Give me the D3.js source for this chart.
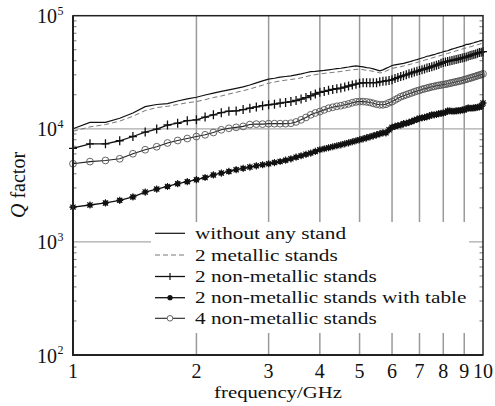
<!DOCTYPE html>
<html><head><meta charset="utf-8">
<script src="https://cdn.jsdelivr.net/npm/d3@7"></script>
<style>body{margin:0;background:#fff}svg{display:block}</style>
</head><body><svg id="c" width="495" height="406"></svg>
<script>
const freq = [1.0,1.1,1.2,1.3,1.4,1.5,1.6,1.7,1.8,1.9,2.0,2.1,2.2,2.3,2.4,2.5,2.6,2.7,2.8,2.9,3.0,3.1,3.2,3.3,3.4,3.5,3.6,3.7,3.8,3.9,4.0,4.1,4.2,4.3,4.4,4.5,4.6,4.7,4.8,4.9,5.0,5.1,5.2,5.3,5.4,5.5,5.6,5.7,5.8,5.9,6.0,6.1,6.2,6.3,6.4,6.5,6.6,6.7,6.8,6.9,7.0,7.1,7.2,7.3,7.4,7.5,7.6,7.7,7.8,7.9,8.0,8.1,8.2,8.3,8.4,8.5,8.6,8.7,8.8,8.9,9.0,9.1,9.2,9.3,9.4,9.5,9.6,9.7,9.8,9.9,10.0];
const withoutStand = [10000,11400,11400,12400,13800,15700,16400,16700,17600,18400,19000,19900,20700,21400,22100,22800,23500,24400,25500,26500,27500,28000,28600,29000,29400,30000,30600,31300,32000,32200,32500,32800,33200,33600,34000,34300,34800,35200,35700,36000,35600,35300,34800,34500,33900,33200,32500,33200,34200,35200,36300,36700,37100,37500,37900,38500,39000,39700,40400,40900,41600,42300,42900,43800,44200,44800,45200,46100,46700,47300,48000,48600,49000,49900,50700,51300,51900,52600,53300,53900,54600,55700,55700,56400,57100,57700,58400,58900,59800,60300,61000];
const metallic = [9500,10400,10900,11700,12900,14500,15400,15800,16400,17000,17400,18100,18900,19500,20300,21000,21700,22500,23400,24300,25300,25900,26500,26900,27300,27700,28200,28900,29700,30100,30600,30900,31200,31500,31800,32100,32500,32900,33200,33500,33600,33300,32900,32600,32200,31800,31200,31400,32400,33300,34200,34600,35000,35400,35900,36400,36900,37500,38100,38600,39200,39800,40400,41000,41600,42200,42800,43400,44000,44600,45200,45800,46400,47000,47700,48300,48900,49500,50100,50700,51300,51900,52400,53000,53600,54200,54800,55400,56000,56600,57200];
const nonMetallic2 = [6700,7370,7370,7840,8550,9350,9950,10800,11200,11800,12000,12700,13300,13900,14300,14400,14800,15200,15600,16000,16300,16500,16900,17100,17400,17800,18300,18900,19600,20300,21000,21400,21900,22300,22600,22900,23400,23900,24400,24800,25300,25500,25600,25600,25600,25600,26000,26300,26500,26800,27100,27800,28400,29000,29500,30000,30600,31200,31800,32200,32800,33300,33800,34400,34800,35400,36000,36500,37100,37900,38600,39000,39400,39800,40200,40600,41000,41400,41900,42300,42700,43200,43800,44400,45000,45500,45900,46600,47200,47600,48100];
const withTable = [2030,2120,2210,2330,2500,2760,2930,3090,3270,3410,3550,3710,3910,4060,4200,4350,4470,4590,4710,4810,4910,5030,5140,5280,5430,5610,5780,5950,6100,6310,6530,6660,6800,6940,7080,7220,7370,7520,7680,7840,8000,8160,8330,8500,8670,8850,9030,9220,9220,9800,10300,10500,10700,10800,11100,11200,11400,11600,11900,12100,12400,12500,12600,12800,13000,13300,13300,13400,13600,13700,13800,14000,14400,14400,14300,14300,14400,14500,14500,14700,14700,15000,15300,15200,15200,15300,15400,15500,15600,15800,16900];
const nonMetallic4 = [4910,5130,5250,5430,6020,6530,6940,7490,7880,8200,8540,8850,9280,9800,10100,10300,10500,10900,11000,11000,11100,11100,11100,11100,11200,11500,12000,12600,13300,13800,14200,14700,15200,15500,15800,16000,16300,16600,17000,17300,17400,17400,17300,17100,16800,16500,16300,16300,16500,17000,17400,18000,18600,19200,19600,20000,20400,20800,21200,21600,21900,22300,22600,22900,23200,23500,23700,24000,24200,24400,24600,24800,25000,25300,25500,25800,26000,26300,26500,26800,27100,27400,27800,28100,28400,28800,29100,29500,29800,30200,30600];
const seriesNames = ["without any stand","2 metallic stands","2 non-metallic stands","2 non-metallic stands with table","4 non-metallic stands"];
const xTicks = [1,2,3,4,5,6,7,8,9,10];
const yDecades = [2,3,4,5];

const FONT = "Liberation Serif";
const svg = d3.select("#c");
const L=73,R=483,T=15.7,B=355;
const x = d3.scaleLog().domain([1,10]).range([L,R]);
const y = d3.scaleLog().domain([100,1e5]).range([B,T]);

const g = svg.append("g");
g.selectAll(".vg").data(xTicks.slice(1,-1)).enter().append("line")
 .attr("x1",d=>x(d)).attr("x2",d=>x(d)).attr("y1",T).attr("y2",B)
 .attr("stroke","#9a9a9a").attr("stroke-width",1.5);
g.selectAll(".hg").data([1e3,1e4]).enter().append("line")
 .attr("x1",L).attr("x2",R).attr("y1",d=>y(d)).attr("y2",d=>y(d))
 .attr("stroke","#aaa").attr("stroke-width",1.3);

const minors=[];
[100,1000,10000].forEach(b=>{for(let k=2;k<=9;k++)minors.push(b*k);});
g.selectAll(".ml").data(minors).enter().append("line")
 .attr("x1",L).attr("x2",L+3.5).attr("y1",d=>y(d)).attr("y2",d=>y(d)).attr("stroke","#555").attr("stroke-width",0.8);
g.selectAll(".mr").data(minors).enter().append("line")
 .attr("x1",R).attr("x2",R-3.5).attr("y1",d=>y(d)).attr("y2",d=>y(d)).attr("stroke","#555").attr("stroke-width",0.8);

const data = [withoutStand,metallic,nonMetallic2,withTable,nonMetallic4];
const line = d3.line().x((d,i)=>x(freq[i])).y(d=>y(d));
const styles = [
 {stroke:"#111",w:1.2,dash:null},
 {stroke:"#777",w:1.0,dash:"5,3"},
 {stroke:"#111",w:1.3,dash:null},
 {stroke:"#111",w:1.3,dash:null},
 {stroke:"#222",w:1.1,dash:null}
];
const sg = svg.append("g");
data.forEach((s,k)=>{
  sg.append("path").datum(s).attr("d",line).attr("fill","none")
   .attr("stroke",styles[k].stroke).attr("stroke-width",styles[k].w)
   .attr("stroke-dasharray",styles[k].dash);
});
function plus(sel){sel.append("path").attr("d","M-4,0H4M0,-4.5V4.5").attr("stroke","#111").attr("stroke-width",1.3);}
function star(sel){sel.append("circle").attr("r",2.6).attr("fill","#111");
  sel.append("path").attr("d","M-3.6,0H3.6M0,-3.6V3.6M-2.6,-2.6L2.6,2.6M-2.6,2.6L2.6,-2.6").attr("stroke","#111").attr("stroke-width",1.1);}
function circ(sel){sel.append("circle").attr("r",3.4).attr("fill","none").attr("stroke","#555").attr("stroke-width",0.9);}
function markers(s,fn){
  sg.selectAll(null).data(s).enter().append("g")
   .attr("transform",(d,i)=>`translate(${x(freq[i])},${y(d)})`).each(function(){fn(d3.select(this));});
}
markers(nonMetallic2,plus);
markers(withTable,star);
markers(nonMetallic4,circ);

const lg = svg.append("g");
lg.append("rect").attr("x",151).attr("y",222).attr("width",318).attr("height",111).attr("fill","#fff");
const rowY=[233.3,255,276.5,297.7,318.3];
seriesNames.forEach((n,k)=>{
  const r = lg.append("g").attr("transform",`translate(0,${rowY[k]})`);
  r.append("line").attr("x1",155).attr("x2",185).attr("y1",0).attr("y2",0)
   .attr("stroke",styles[k].stroke).attr("stroke-width",styles[k].w).attr("stroke-dasharray",styles[k].dash);
  const m = r.append("g").attr("transform","translate(170,0)");
  if(k===2) m.append("path").attr("d","M-3,0H3M0,-3.5V3.5").attr("stroke","#111").attr("stroke-width",1.2);
  if(k===3) m.append("circle").attr("r",2.6).attr("fill","#111");
  if(k===4) m.append("circle").attr("r",2.8).attr("fill","#fff").attr("stroke","#555").attr("stroke-width",0.9);
  r.append("text").attr("transform","translate(195,5.5) scale(1.25,1)").attr("font-size",17)
   .attr("font-family",FONT).attr("fill","#111").text(n);
});

svg.append("rect").attr("x",L).attr("y",T).attr("width",R-L).attr("height",B-T)
 .attr("fill","none").attr("stroke","#222").attr("stroke-width",1.5);
svg.append("path").attr("d",`M${L},${T}V${B}H${R}`).attr("fill","none").attr("stroke","#222").attr("stroke-width",2);

svg.selectAll(".xt").data(xTicks).enter().append("text")
 .attr("x",d=>x(d)).attr("y",378).attr("text-anchor","middle").attr("font-size",20)
 .attr("font-family",FONT).attr("fill","#111").text(d=>d);
yDecades.forEach(p=>{
  svg.append("text").attr("x",57).attr("y",y(Math.pow(10,p))+7.5).attr("text-anchor","end").attr("font-size",20)
   .attr("font-family",FONT).attr("fill","#111").text("10");
  svg.append("text").attr("x",57.5).attr("y",y(Math.pow(10,p))-1).attr("font-size",12)
   .attr("font-family",FONT).attr("fill","#111").text(p);
});
svg.append("text").attr("transform","translate(278,398) scale(1.22,1)").attr("text-anchor","middle").attr("font-size",17)
 .attr("font-family",FONT).attr("fill","#111").text("frequency/GHz");
const yt = svg.append("text").attr("transform","translate(25,185) rotate(-90)").attr("text-anchor","middle").attr("font-size",20)
 .attr("font-family",FONT).attr("fill","#111");
yt.append("tspan").attr("font-style","italic").text("Q");
yt.append("tspan").text(" factor");
</script></body></html>
